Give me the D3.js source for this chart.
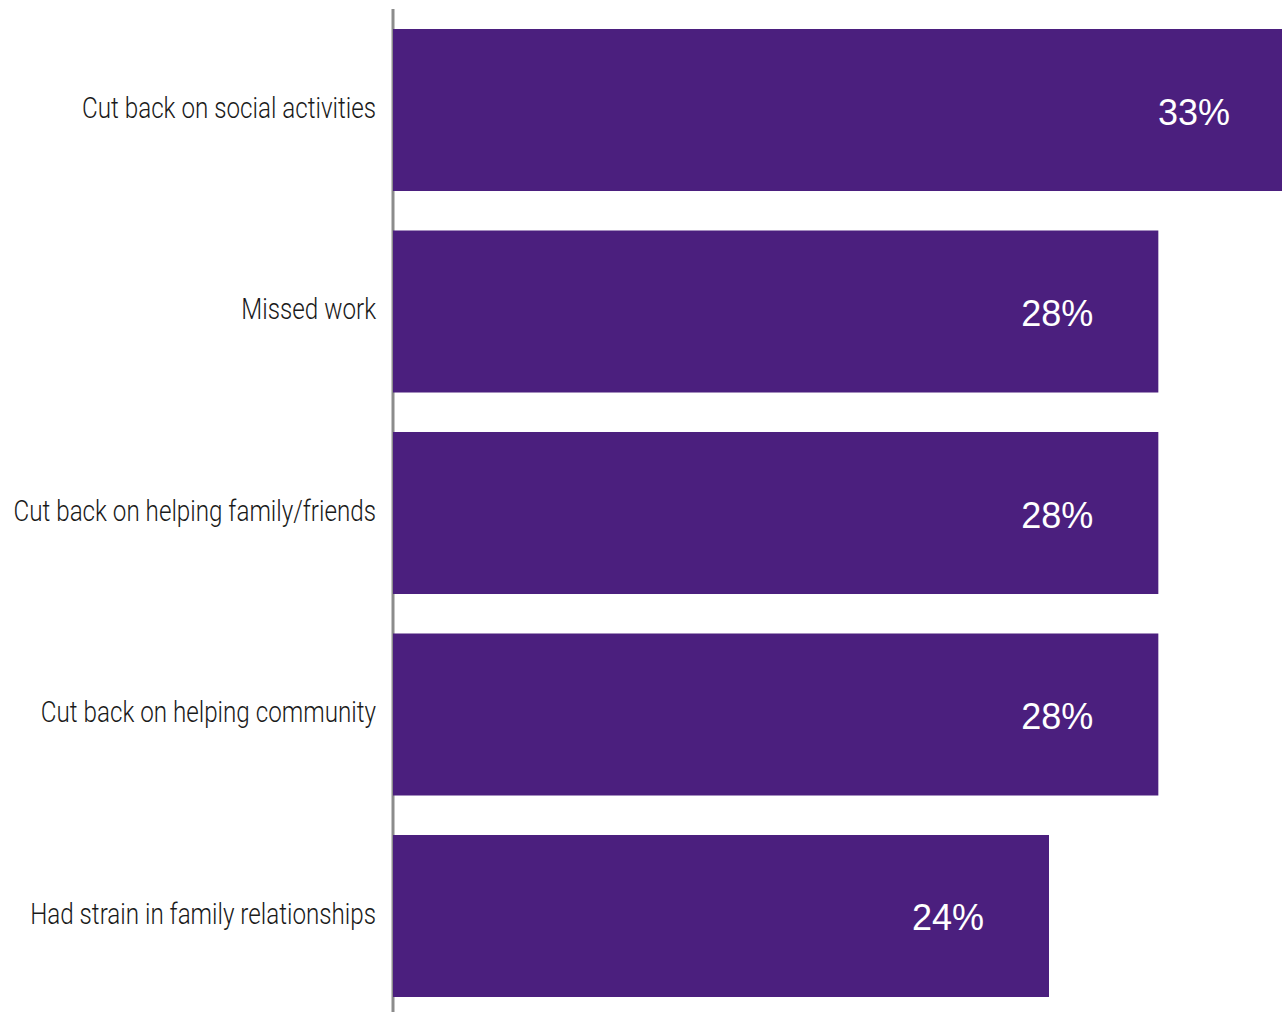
<!DOCTYPE html>
<html>
<head>
<meta charset="utf-8">
<script src="https://cdn.jsdelivr.net/npm/d3@7"></script>
<style>
  html, body { margin: 0; padding: 0; background: #fff; overflow: hidden; }
  svg { display: block; }
  .cat { font-family: "Roboto", "DejaVu Sans Condensed", sans-serif; font-weight: 300; fill: #1a1a1a; }
  .val { font-family: "Liberation Sans", Arial, sans-serif; fill: #fff; }
</style>
</head>
<body>
<svg id="chart" width="1282" height="1012"></svg>
<script>
// Share of respondents reporting each impact
const categories = [
  "Cut back on social activities",
  "Missed work",
  "Cut back on helping family/friends",
  "Cut back on helping community",
  "Had strain in family relationships"
];
const values = [33, 28, 28, 28, 24];
const valueLabels = ["33%", "28%", "28%", "28%", "24%"];

const data = categories.map((c, i) => ({ cat: c, value: values[i], label: valueLabels[i] }));

const svg = d3.select("#chart");
const W = 1282, H = 1012;
const axisX = 393;
const labelRight = 376;
const condense = 0.835; // horizontal squeeze for the narrow label face

const x = d3.scaleLinear().domain([0, 33]).range([axisX, 1295]);
const y = d3.scaleBand()
  .domain(categories)
  .range([29, 997])
  .paddingInner(0.196)
  .paddingOuter(0);

// baseline axis
svg.append("line")
  .attr("x1", axisX).attr("x2", axisX)
  .attr("y1", 9).attr("y2", H)
  .attr("stroke", "#8c8c8c")
  .attr("stroke-width", 3);

// bars
svg.selectAll("rect.bar")
  .data(data)
  .join("rect")
  .attr("class", "bar")
  .attr("x", x(0))
  .attr("y", d => y(d.cat))
  .attr("width", d => x(d.value) - x(0))
  .attr("height", y.bandwidth())
  .attr("fill", "#4b1f7e");

// category labels, condensed horizontally
svg.selectAll("text.cat")
  .data(data)
  .join("text")
  .attr("class", "cat")
  .attr("transform", d => `translate(${labelRight},${y(d.cat) + y.bandwidth() / 2 - 2}) scale(${condense},1)`)
  .attr("text-anchor", "end")
  .attr("dominant-baseline", "central")
  .attr("font-size", 29)
  .text(d => d.cat);

// value labels inside bars
svg.selectAll("text.val")
  .data(data)
  .join("text")
  .attr("class", "val")
  .attr("x", d => x(d.value) - 101)
  .attr("y", d => y(d.cat) + y.bandwidth() / 2 + 2)
  .attr("text-anchor", "middle")
  .attr("dominant-baseline", "central")
  .attr("font-size", 36)
  .text(d => d.label);
</script>
</body>
</html>
